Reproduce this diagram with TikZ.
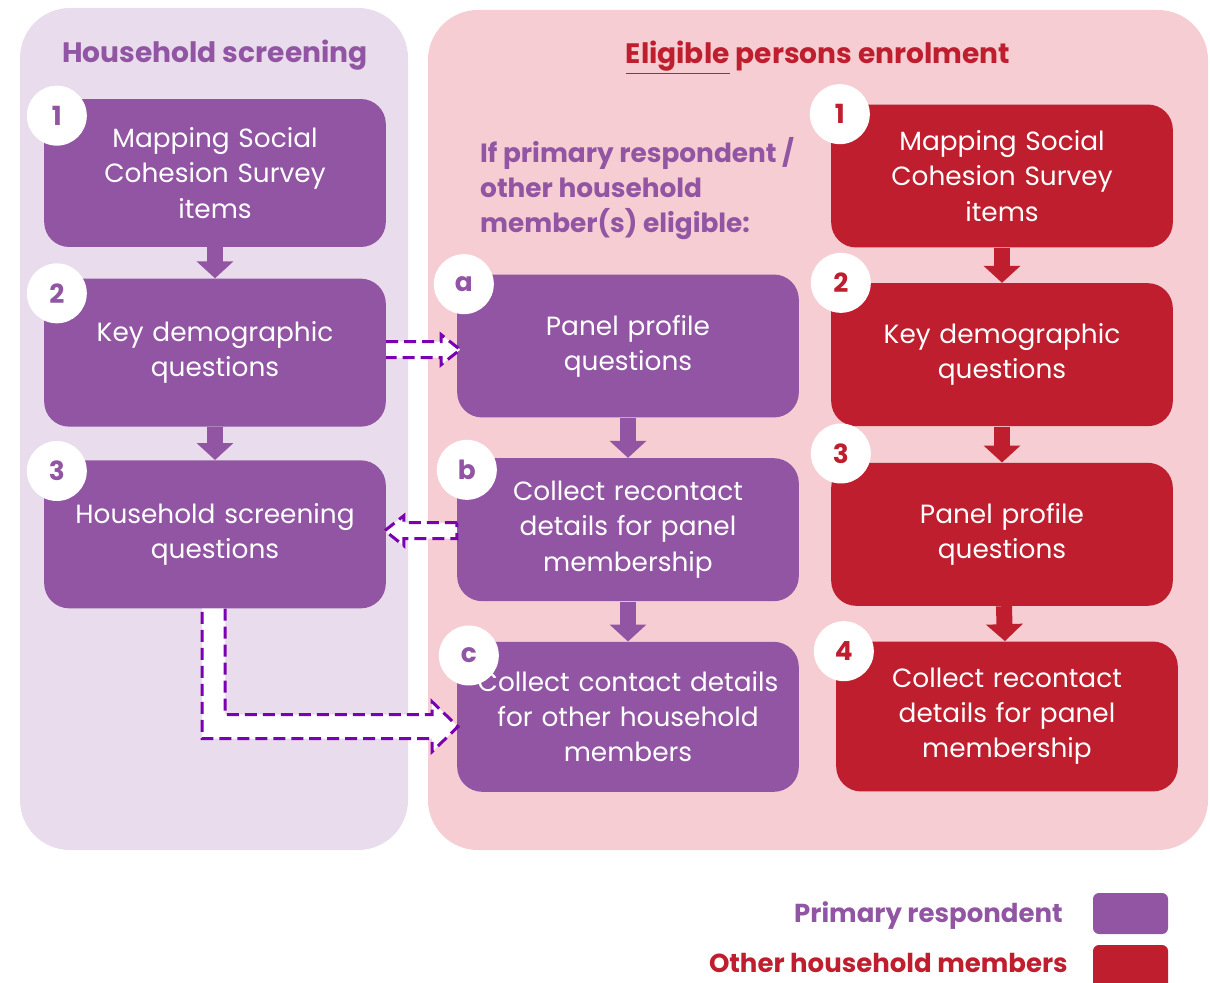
\documentclass[tikz,border=0pt]{standalone}
\usepackage[usenames, dvipsnames]{xcolor}
\usepackage{fontspec}
\setmainfont{Poppins}
\usepackage{tikz}
\usetikzlibrary{graphs, positioning, calc, arrows.meta}

\definecolor{HsPurple}{HTML}{9155A3}
\definecolor{HsLilac}{HTML}{E9DCEC}
\definecolor{EpRed}{HTML}{BE1E2D}
\definecolor{EpPink}{HTML}{F5CDD2}
\definecolor{DashViolet}{HTML}{7A00B4}

\tikzset{
	stage/.style={rounded corners=0.5cm, minimum width=6.8cm, minimum height=2.9cm, text width=6.6cm, align=center, text=white, font=\fontsize{15}{20}\selectfont},
	primary/.style={stage, fill=HsPurple},
	other/.style={stage, fill=EpRed},
	badge/.style={circle, fill=white, minimum size=1.2cm, inner sep=0pt, font=\bfseries\fontsize{15}{15}\selectfont},
	flow/.style={line width=0.32cm, -{Triangle[width=0.72cm, length=0.34cm]}},
	hollow/.style={draw=DashViolet, fill=white, line width=0.06cm, dash pattern=on 0.24cm off 0.12cm},
	heading/.style={font=\bfseries\fontsize{16}{20}\selectfont},
	keytext/.style={inner sep=0pt, anchor=east, font=\bfseries\fontsize{14.8}{18}\selectfont},
}

\begin{document}
\begin{tikzpicture}[x=0.02cm, y=-0.02cm]
		\useasboundingbox (0,0) rectangle (1210,983);
		\fill[HsLilac, rounded corners=1cm] (20,8) rectangle (408,850);
		\fill[EpPink, rounded corners=1cm] (428,10) rectangle (1208,850);

		\node[heading, text=HsPurple]	(HsTitle) at (215,55) {Household screening};
		\node[heading, text=EpRed]	(EpTitle) at (818,58) {\underline{Eligible} persons enrolment};
		\node[heading, text=HsPurple, font=\bfseries\fontsize{15}{20}\selectfont, align=left, anchor=north west]	(EpNote) at (474,131) {If primary respondent /\\other household\\member(s) eligible:};

		\node[primary, minimum height=2.96cm]	(L1) at (215,173) {Mapping Social\\Cohesion Survey\\items};
		\node[primary, minimum height=2.96cm, below=0.62cm of L1]	(L2) {Key demographic\\questions};
		\node[primary, minimum height=2.96cm, below=0.66cm of L2]	(L3) {Household screening\\questions};

		\node[primary, minimum height=2.86cm]	(a) at (628,346) {Panel profile\\questions};
		\node[primary, minimum height=2.86cm, below=0.8cm of a]	(b) {Collect recontact\\details for panel\\membership};
		\node[primary, minimum height=3cm, below=0.8cm of b]	(c) {Collect contact details\\for other household\\members};

		\node[other, minimum height=2.86cm]	(R1) at (1002,176) {Mapping Social\\Cohesion Survey\\items};
		\node[other, minimum height=2.86cm, below=0.7cm of R1]	(R2) {Key demographic\\questions};
		\node[other, minimum height=2.86cm, below=0.72cm of R2]	(R3) {Panel profile\\questions};
		\node[other, minimum height=3cm, below=0.7cm of R3, xshift=0.1cm]	(R4) {Collect recontact\\details for panel\\membership};

		\graph[edges={flow, HsPurple}] {
			(L1) -> (L2) -> (L3);
			(a) -> (b) -> (c);
		};
		\graph[edges={flow, EpRed}] {
			(R1) -> (R2) -> (R3) -> (R4);
		};

		\draw[hollow] ($(L2.east)+(0,-3)$) ++(0,-8) -- ++(55,0) -- ++(0,-7) -- ++(19,15) -- ++(-19,15) -- ++(0,-7) -- ++(-55,0);
		\draw[hollow] ($(b.west)+(0,1)$) ++(0,-8) -- ++(-53,0) -- ++(0,-7) -- ++(-19,15) -- ++(19,15) -- ++(0,-7) -- ++(53,0) -- cycle;
		\draw[hollow] ($(L3.south)+(10,0)$) -- ++(0,106) -- ++(207,0) -- ++(0,-13) -- ++(26,25) -- ++(-26,25) -- ++(0,-13) -- ++(-230,0) -- ++(0,-130);

		\node[badge, text=HsPurple]	(nL1) at ([shift={(13,17)}]L1.north west) {1};
		\node[badge, text=HsPurple]	(nL2) at ([shift={(13,15)}]L2.north west) {2};
		\node[badge, text=HsPurple]	(nL3) at ([shift={(13,11)}]L3.north west) {3};
		\node[badge, text=HsPurple]	(na) at ([shift={(7,10)}]a.north west) {a};
		\node[badge, text=HsPurple]	(nb) at ([shift={(10,12)}]b.north west) {b};
		\node[badge, text=HsPurple]	(nc) at ([shift={(12,14)}]c.north west) {c};
		\node[badge, text=EpRed]	(nR1) at ([shift={(9,10)}]R1.north west) {1};
		\node[badge, text=EpRed]	(nR2) at ([shift={(10,0)}]R2.north west) {2};
		\node[badge, text=EpRed]	(nR3) at ([shift={(10,-9)}]R3.north west) {3};
		\node[badge, text=EpRed]	(nR4) at ([shift={(8,10)}]R4.north west) {4};

		\node[keytext, text=HsPurple]	(PrimaryKey) at (1063,916) {Primary respondent};
		\node[keytext, text=EpRed]	(OtherKey) at (1068,963) {Other household members};
		\fill[HsPurple, rounded corners=0.12cm] (1093,893) rectangle (1168,934);
		\fill[EpRed, rounded corners=0.12cm] (1093,945) rectangle (1168,995);
	\end{tikzpicture}
\end{document}
